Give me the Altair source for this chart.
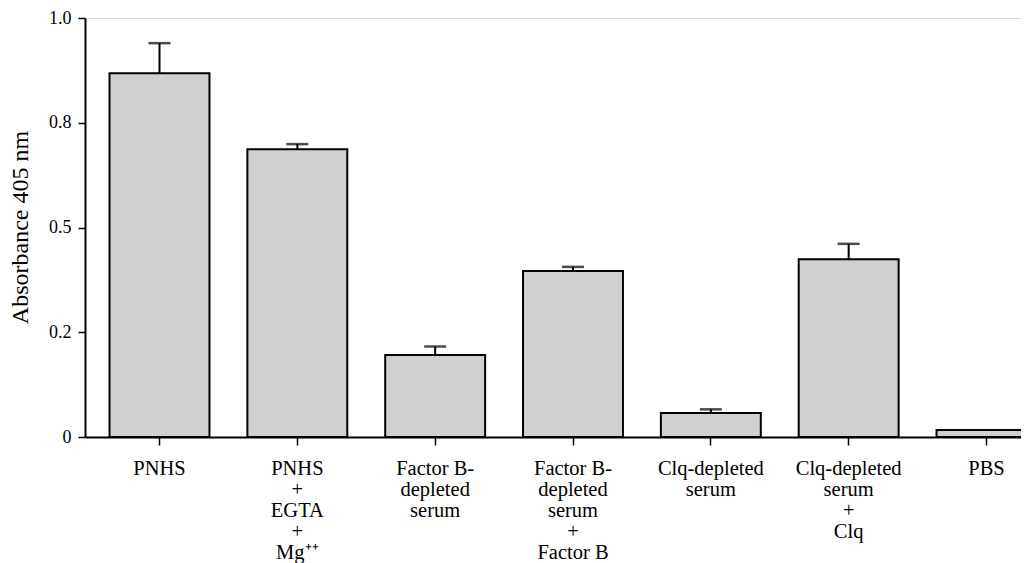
import altair as alt
import pandas as pd
import numpy as np

categories = [
    "PNHS",
    "PNHS|+|EGTA|+|Mg⁺⁺",
    "Factor B-|depleted|serum",
    "Factor B-|depleted|serum|+|Factor B",
    "Clq-depleted|serum",
    "Clq-depleted|serum|+|Clq",
    "PBS",
]
values = [0.868, 0.687, 0.196, 0.396, 0.057, 0.424, 0.017]
err_top = [0.940, 0.699, 0.216, 0.406, 0.066, 0.461, np.nan]

y_ticks = [0, 0.25, 0.5, 0.75, 1.0]
y_tick_labels = ["0", "0.2", "0.5", "0.8", "1.0"]

df = pd.DataFrame({"cat": categories, "value": values, "err": err_top})

FONT = "Liberation Serif"

label_expr = " : ".join(
    [f"datum.value == {v} ? '{l}'" for v, l in zip(y_ticks, y_tick_labels)]
) + " : ''"

x_enc = alt.X(
    "cat:N",
    sort=categories,
    scale=alt.Scale(range=[0, 976], paddingInner=0.275, paddingOuter=0.178),
    axis=alt.Axis(
        title=None,
        labelAngle=0,
        labelExpr="split(datum.label, '|')",
        labelFont=FONT,
        labelFontSize=20.5,
        labelColor="black",
        labelLineHeight=21,
        labelBaseline="top",
        labelPadding=13,
        tickSize=8,
        tickWidth=1.5,
        tickColor="black",
        domainColor="black",
        domainWidth=2,
        labelLimit=300,
    ),
)

y_enc = alt.Y(
    "value:Q",
    scale=alt.Scale(domain=[0, 1], nice=False, zero=True),
    axis=alt.Axis(
        title="Absorbance 405 nm",
        titleFont=FONT,
        titleFontSize=24,
        titleFontWeight="normal",
        titleColor="black",
        titlePadding=16,
        titleY=209,
        values=y_ticks,
        labelExpr=label_expr,
        labelFont=FONT,
        labelFontSize=18,
        labelColor="black",
        labelPadding=7,
        tickSize=7,
        tickWidth=1.5,
        tickColor="black",
        domainColor="black",
        domainWidth=2,
        grid=False,
    ),
)

base = alt.Chart(df)

bars = base.mark_bar(
    fill="#d0d0d0", stroke="black", strokeWidth=2, clip=True
).encode(x=x_enc, y=y_enc)

err_df = df.dropna()
err_base = alt.Chart(err_df)
rules = err_base.mark_rule(color="black", strokeWidth=2).encode(
    x=alt.X("cat:N", sort=categories),
    y="value:Q",
    y2="err:Q",
)
caps = err_base.mark_tick(color="black", thickness=2.5, size=22).encode(
    x=alt.X("cat:N", sort=categories),
    y="err:Q",
)

chart = (
    alt.layer(bars, rules, caps)
    .properties(
        width=936,
        height=419,
        autosize=alt.AutoSizeParams(type="none"),
        padding={"left": 77, "top": 10, "right": 0, "bottom": 126},
    )
    .configure_view(stroke=None)
    .configure(background="white")
)

chart.save("out.html", embed_options={"renderer": "svg", "actions": False})
